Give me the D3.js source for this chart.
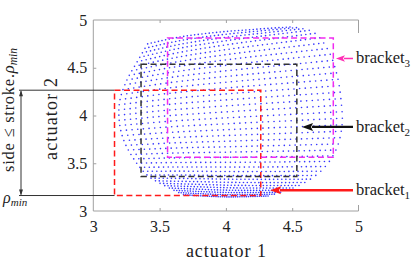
<!DOCTYPE html>
<html><head><meta charset="utf-8">
<script src="https://cdn.jsdelivr.net/npm/d3@7"></script>
<style>
body{margin:0;background:#fff}
svg{display:block}
text{font-family:"Liberation Serif","Times New Roman",serif;fill:#222}
</style>
</head><body>
<svg id="c" width="415" height="264"></svg>
<script>
// ---------- data ----------
const xTicks = [3, 3.5, 4, 4.5, 5];
const yTicks = [3, 3.5, 4, 4.5, 5];
const xTickLabels = ["3", "3.5", "4", "4.5", "5"];
const yTickLabels = ["3", "3.5", "4", "4.5", "5"];
const xLabel = "actuator 1";
const yLabel = "actuator 2";

const bracketNames = ["bracket", "bracket", "bracket"];
const bracketSubs = ["1", "2", "3"];
const bracketX0 = [3.16, 3.36, 3.56];
const bracketY0 = [3.162, 3.361, 3.562];
const bracketSide = [1.103, 1.175, 1.25];

// workspace point cloud: boundary curves (actuator units)
const cloudLeft = [[3.41,4.75],[3.33,4.56],[3.254,4.372],[3.201,4.162],[3.194,3.974],[3.216,3.796],[3.277,3.607],[3.405,3.377],[3.56,3.25],[3.68,3.17]];
const cloudRight = [[4.483,4.927],[4.657,4.874],[4.77,4.686],[4.838,4.424],[4.868,4.162],[4.876,3.901],[4.83,3.639],[4.725,3.429],[4.559,3.272],[4.318,3.157]];
const cloudTop = [[3.41,4.75],[3.654,4.822],[3.956,4.874],[4.257,4.906],[4.483,4.927]];
const cloudBottom = [[3.68,3.17],[4.0,3.148],[4.318,3.157]];
const cloudCols = 40, cloudRows = 37;

// ---------- layout ----------
const svg = d3.select("#c");
const X0 = 93.3, X1 = 358.5, Y0 = 211, Y1 = 20;
const x = d3.scaleLinear().domain([3, 5]).range([X0, X1]);
const y = d3.scaleLinear().domain([3, 5]).range([Y0, Y1]);
const axisGray = "#a0a0a0";
const bracketColors = ["#ff1a1a", "#333333", "#f02cf0"];
const labelColors = ["#ff1a1a", "#111111", "#ff2fb4"];

// ---------- cloud ----------
const hidden = svg.append("g").attr("visibility", "hidden");
function mkCurve(pts) {
  const p = hidden.append("path")
    .attr("d", d3.line().x(d => x(d[0])).y(d => y(d[1])).curve(d3.curveCatmullRom.alpha(0.5))(pts))
    .node();
  const L = p.getTotalLength();
  return t => { const q = p.getPointAtLength(L * t); return [q.x, q.y]; };
}
const Lc = mkCurve(cloudLeft), Rc = mkCurve(cloudRight), Tc = mkCurve(cloudTop), Bc = mkCurve(cloudBottom);
const P00 = Tc(0), P10 = Tc(1), P01 = Bc(0), P11 = Bc(1);
const dots = [];
for (let j = 0; j < cloudRows; j++) {
  const v = j / (cloudRows - 1);
  const l = Lc(v), r = Rc(v);
  for (let i = 0; i < cloudCols; i++) {
    const u = i / (cloudCols - 1);
    const t = Tc(u), b = Bc(u);
    const px = (1-u)*l[0] + u*r[0] + (1-v)*t[0] + v*b[0]
      - ((1-u)*(1-v)*P00[0] + u*(1-v)*P10[0] + (1-u)*v*P01[0] + u*v*P11[0]);
    const py = (1-u)*l[1] + u*r[1] + (1-v)*t[1] + v*b[1]
      - ((1-u)*(1-v)*P00[1] + u*(1-v)*P10[1] + (1-u)*v*P01[1] + u*v*P11[1]);
    dots.push([px, py]);
  }
}
svg.append("g").selectAll("circle").data(dots).join("circle")
  .attr("cx", d => d[0]).attr("cy", d => d[1]).attr("r", 0.82)
  .attr("fill", "#2020ff").attr("fill-opacity", 0.9);

// ---------- axes box ----------
const box = svg.append("g").attr("stroke", axisGray).attr("stroke-width", 1).attr("fill", "none");
box.append("path").attr("d", `M${X0},${Y1}H${X1}M${X0},${Y1}V${Y0}H${X1}M${X1},${Y1}V${Y1+13}M${X1},${Y0}V${Y0-6}`);

const gx = svg.append("g").attr("transform", `translate(0,${Y0})`)
  .call(d3.axisBottom(x).tickValues(xTicks).tickFormat((d, i) => xTickLabels[i]).tickSize(-3).tickPadding(10));
const gxt = svg.append("g").attr("transform", `translate(0,${Y1})`)
  .call(d3.axisTop(x).tickValues(xTicks.slice(1, -1)).tickFormat("").tickSize(-3));
const gy = svg.append("g").attr("transform", `translate(${X0},0)`)
  .call(d3.axisLeft(y).tickValues(yTicks).tickFormat((d, i) => yTickLabels[i]).tickSize(-3).tickPadding(6));
[gx, gxt, gy].forEach(g => {
  g.select(".domain").remove();
  g.selectAll("line").attr("stroke", axisGray);
  g.selectAll("text").attr("font-family", "Liberation Serif").attr("font-size", 16).attr("fill", "#262626");
});
gx.selectAll(".tick").filter(d => d === 3 || d === 5).select("line").remove();
gy.selectAll(".tick").filter(d => d === 3 || d === 5).select("line").remove();

svg.append("text").attr("x", (X0 + X1) / 2).attr("y", 257).attr("text-anchor", "middle")
  .attr("font-size", 18).attr("textLength", 80).attr("lengthAdjust", "spacing").text(xLabel);
svg.append("text").attr("transform", "translate(57,119) rotate(-90)").attr("text-anchor", "middle")
  .attr("font-size", 18).attr("textLength", 82).attr("lengthAdjust", "spacing").text(yLabel);

// ---------- brackets ----------
svg.append("g").selectAll("rect").data(bracketX0).join("rect")
  .attr("x", (d, i) => x(d))
  .attr("y", (d, i) => y(bracketY0[i] + bracketSide[i]))
  .attr("width", (d, i) => x(d + bracketSide[i]) - x(d))
  .attr("height", (d, i) => y(bracketY0[i]) - y(bracketY0[i] + bracketSide[i]))
  .attr("fill", "none").attr("stroke", (d, i) => bracketColors[i])
  .attr("stroke-width", 1.5).attr("stroke-dasharray", "6,3.5");

// ---------- annotations (right) ----------
const annTipX = [4.333, 4.574, 4.830];
const annTipY = [3.217, 3.880, 4.597];
const annW = [2.4, 2.2, 1.5];
const annTailX = 353, annTextX = 356;
annTipX.forEach((tx, i) => {
  const px = x(tx), py = y(annTipY[i]);
  const c = labelColors[i];
  const hl = i === 2 ? 9 : 11, hw = i === 2 ? 3.2 : 4;
  svg.append("line").attr("x1", px + hl - 1).attr("y1", py).attr("x2", annTailX).attr("y2", py)
    .attr("stroke", c).attr("stroke-width", annW[i]);
  svg.append("path").attr("d", `M${px},${py}L${px+hl},${py-hw}L${px+hl-2},${py}L${px+hl},${py+hw}Z`).attr("fill", c);
  const t = svg.append("text").attr("x", annTextX).attr("y", py + 5).attr("font-size", 16.5).attr("fill", c);
  t.append("tspan").text(bracketNames[i]);
  t.append("tspan").attr("dy", 4).attr("font-size", 11).text(bracketSubs[i]);
});

// ---------- left dimension annotation ----------
const red = 0;
const topY = y(bracketY0[red] + bracketSide[red]), botY = y(bracketY0[red]);
const lx = 21, rx = x(bracketX0[red]);
const dim = svg.append("g").attr("stroke", "#333").attr("stroke-width", 1).attr("fill", "none");
dim.append("path").attr("d", `M${lx-2},${topY}H${rx}M${lx-2},${botY}H${rx}M${lx},${topY+1}V${botY-1}`);
svg.append("path").attr("d", `M${lx},${topY}L${lx-2},${topY+6}L${lx+2},${topY+6}Z M${lx},${botY}L${lx-2},${botY-6}L${lx+2},${botY-6}Z`).attr("fill", "#333");

const rho = svg.append("text").attr("x", 3).attr("y", 203).attr("font-size", 16);
rho.append("tspan").attr("font-style", "italic").text("ρ");
rho.append("tspan").attr("font-style", "italic").attr("dy", 3).attr("font-size", 11).text("min");

const side = svg.append("text").attr("transform", "translate(14,110) rotate(-90)").attr("text-anchor", "middle").attr("font-size", 16.5);
side.append("tspan").attr("textLength", 98).attr("lengthAdjust", "spacing").text("side ≤ stroke.");
side.append("tspan").attr("font-style", "italic").text("ρ");
side.append("tspan").attr("font-style", "italic").attr("dy", 3).attr("font-size", 11.5).text("min");
</script>
</body></html>
